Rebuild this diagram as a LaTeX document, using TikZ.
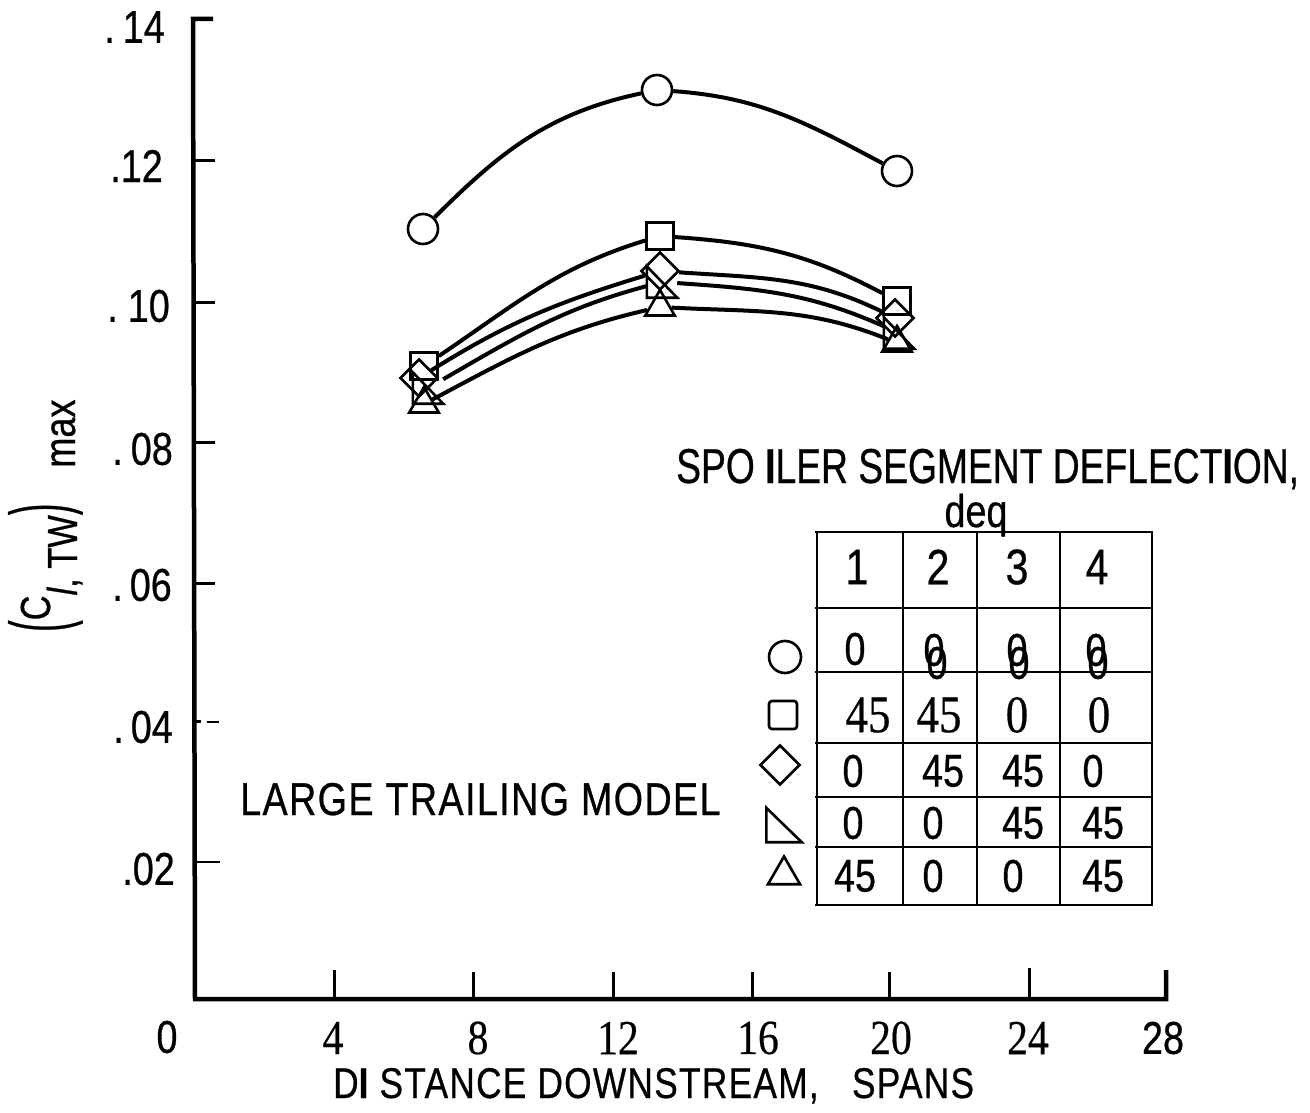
\documentclass[tikz,border=0pt]{standalone}
\usepackage{fontspec}
\setmainfont[FakeStretch=0.82,FakeBold=0.6]{Liberation Sans}
\newfontfamily\hdr[FakeStretch=0.76,FakeBold=0.6]{Liberation Sans}
\newfontfamily\spaced[FakeStretch=0.82,FakeBold=0.6,LetterSpace=3]{Liberation Sans}
\newfontfamily\srf[FakeStretch=0.85,FakeBold=0.4]{Liberation Serif}
\usetikzlibrary{shapes.geometric}
\tikzset{
  curve/.style={line width=4pt},
  mk/.style={draw, line width=2.6pt, inner sep=0pt},
  circmk/.style={mk, circle, minimum size=30pt},
  sqmk/.style={mk, rectangle, minimum size=27pt},
  diamk/.style={mk, diamond, minimum width=38pt, minimum height=38pt},
  trimk/.style={mk, regular polygon, regular polygon sides=3, minimum size=34pt},
  rtrimk/.style={inner sep=0pt, rectangle, minimum width=30pt, minimum height=31pt},
  rtriline/.style={line width=2.6pt, line join=miter},
  axisline/.style={line width=4.5pt, line join=miter},
  tickline/.style={line width=3pt},
  gridline/.style={line width=2.8pt},
  lbl/.style={inner sep=0pt, font=\fontsize{46}{46}\selectfont},
  xnum/.style={inner sep=0pt, font=\srf\fontsize{49}{49}\selectfont},
  cell/.style={inner sep=0pt, font=\fontsize{46}{46}\selectfont},
  scell/.style={inner sep=0pt, font=\srf\fontsize{53}{53}\selectfont},
}
\begin{document}
\begin{tikzpicture}[x=1pt,y=1pt]
\useasboundingbox (0,0) rectangle (1310,-1113);
% axes
\draw[axisline] (213,-19) -- (193,-19) -- (195,-999) -- (1166,-999) -- (1166,-970);
\foreach \yy in {161,302,442,583} \draw[tickline] (194,-\yy) -- (215,-\yy);
\draw[tickline] (194,-721) -- (201,-721);
\draw[line width=2.2pt] (207,-722) -- (219,-722);
\draw[line width=2.4pt] (194,-862) -- (220,-862);
\foreach \xx/\tt in {334/970,473/972,613/972,752/972,889/972,1029/968} \draw[tickline] (\xx,-999) -- (\xx,-\tt);
% y tick labels
\node[lbl, anchor=east] (y14) at (165,-27) {.\kern8pt14};
\node[lbl, anchor=east] (y12) at (163,-166) {.12};
\node[lbl, anchor=east] (y10) at (170,-306) {.\kern10pt10};
\node[lbl, anchor=east] (y08) at (173,-449) {.\kern8pt08};
\node[lbl, anchor=east] (y06) at (172,-585) {.\kern7pt06};
\node[lbl, anchor=east] (y04) at (173,-727) {.\kern7pt04};
\node[lbl, anchor=east] (y02) at (175,-869) {.02};
% x tick labels
\node[lbl] (x0) at (167,-1037) {0};
\node[xnum] (x4) at (333,-1038) {4};
\node[xnum] (x8) at (478,-1038) {8};
\node[xnum] (x12) at (618,-1038) {12};
\node[xnum] (x16) at (758,-1038) {16};
\node[xnum] (x20) at (891,-1038) {20};
\node[xnum] (x24) at (1028,-1038) {24};
\node[lbl] (x28) at (1163,-1038) {28};
% axis titles
\node[inner sep=0pt, anchor=base west, font=\spaced\fontsize{43}{43}\selectfont] (xt) at (333,-1098) {D{\bfseries I} STANCE DOWNSTREAM,\ \ \ SPANS};
\node[inner sep=0pt, anchor=base west, rotate=90, font=\fontsize{42}{42}\selectfont] (yt) at (50,-632)
  {\raisebox{-16pt}{\scalebox{1}[1.9]{(}}C\raisebox{-27pt}{\itshape l\upshape,\ TW}\raisebox{-16pt}{\scalebox{1}[1.9]{)}}\hspace{36pt}\raisebox{-25pt}{\fontsize{44}{44}\selectfont max}};
% data markers
\node[circmk] (c1) at (423,-229) {};
\node[circmk] (c2) at (657,-90) {};
\node[circmk] (c3) at (897,-171) {};
\node[sqmk] (s1) at (424,-366) {};
\node[sqmk] (s2) at (660,-236) {};
\node[sqmk] (s3) at (897,-301) {};
\node[diamk] (d1) at (419,-378) {};
\node[diamk] (d2) at (660,-271) {};
\node[diamk] (d3) at (895,-318) {};
\node[rtrimk] (r1) at (428,-388) {};
\node[rtrimk] (r2) at (662,-282) {};
\node[rtrimk] (r3) at (899,-333) {};
\foreach \n in {r1,r2,r3} \draw[rtriline] (\n.north west) -- (\n.south west) -- (\n.south east) -- cycle;
\node[trimk] (t1) at (424,-404) {};
\node[trimk] (t2) at (660,-307) {};
\node[trimk] (t3) at (897,-343) {};
% curves
\draw[curve] (c1) to[out=45,in=192] (c2);
\draw[curve] (c2) to[out=-4,in=152] (c3);
\draw[curve] (s1) to[out=34,in=197] (s2);
\draw[curve] (s2) to[out=-4,in=152] (s3);
\draw[curve] (d1) to[out=32,in=197] (d2);
\draw[curve] (d2) to[out=-4,in=154] (d3);
\draw[curve] (r1) to[out=30,in=195] (r2);
\draw[curve] (r2) to[out=-4,in=156] (r3);
\draw[curve] (t1) to[out=28,in=193] (t2);
\draw[curve] (t2) to[out=-3,in=158] (t3);
% texts
\node[inner sep=0pt, anchor=base west, font=\spaced\fontsize{46}{46}\selectfont] (model) at (240,-815) {LARGE TRAILING MODEL};
\node[inner sep=0pt, anchor=base west, font=\hdr\fontsize{49}{49}\selectfont] (hdr) at (676,-483) {SPO {\bfseries I}LER SEGMENT DEFLECT{\bfseries I}ON,};
\node[inner sep=0pt, anchor=base, font=\fontsize{46}{46}\selectfont] (deq) at (976,-527) {deq};
% table grid
\foreach \yy in {532,608,672,743,797,847,905} \draw[gridline] (815,-\yy) -- (1153,-\yy);
\foreach \xx in {817,903,977,1060,1152} \draw[gridline] (\xx,-532) -- (\xx,-905);
% header
\node[cell, font=\fontsize{50}{50}\selectfont] (h1) at (857,-567) {1};
\node[cell, font=\fontsize{50}{50}\selectfont] (h2) at (938,-567) {2};
\node[cell, font=\fontsize{50}{50}\selectfont] (h3) at (1017,-567) {3};
\node[cell, font=\fontsize{50}{50}\selectfont] (h4) at (1097,-567) {4};
% circle row
\node[cell] (a1) at (855,-649) {0};
\node[cell] (a2) at (934,-650) {0};
\node[cell] (a2b) at (937,-663) {0};
\node[cell] (a3) at (1017,-650) {0};
\node[cell] (a3b) at (1019,-663) {0};
\node[cell] (a4) at (1096,-650) {0};
\node[cell] (a4b) at (1098,-663) {0};
% square row
\node[scell] (b1) at (868,-715) {45};
\node[scell] (b2) at (939,-715) {45};
\node[scell] (b3) at (1017,-715) {0};
\node[scell] (b4) at (1099,-715) {0};
% diamond row
\node[cell] (e1) at (853,-771) {0};
\node[cell] (e2) at (943,-771) {45};
\node[cell] (e3) at (1023,-771) {45};
\node[cell] (e4) at (1093,-771) {0};
% right triangle row
\node[cell] (f1) at (853,-823) {0};
\node[cell] (f2) at (933,-823) {0};
\node[cell] (f3) at (1023,-823) {45};
\node[cell] (f4) at (1103,-823) {45};
% triangle row
\node[cell] (g1) at (855,-876) {45};
\node[cell] (g2) at (933,-876) {0};
\node[cell] (g3) at (1013,-876) {0};
\node[cell] (g4) at (1103,-876) {45};
% legend markers
\node[circmk, minimum size=32pt] (lc) at (785,-657) {};
\node[sqmk, minimum size=28pt, rounded corners=3pt] (ls) at (783,-715) {};
\node[diamk, minimum width=40pt, minimum height=40pt] (ld) at (780,-765) {};
\node[rtrimk, minimum width=35pt, minimum height=34pt] (lr) at (784,-825) {};
\draw[rtriline] (lr.north west) -- (lr.south west) -- (lr.south east) -- cycle;
\node[trimk, minimum size=37pt] (lt) at (784,-875) {};
\end{tikzpicture}
\end{document}
